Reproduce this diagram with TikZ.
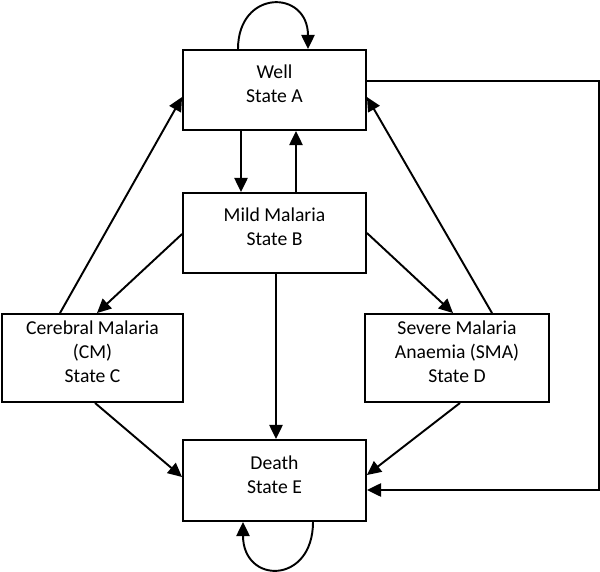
\documentclass[tikz,border=0pt]{standalone}
\usepackage{fontspec}
\setmainfont{Carlito}
\usetikzlibrary{positioning,arrows.meta}
\tikzset{
	%Diagramme des etats
	state/.style={
		draw,
		rectangle,
		line width=1.1pt,
		minimum width=3.66cm,
		minimum height=1.6cm,
		align=center,
		text depth=7pt,
		font=\fontsize{11.2}{13.6}\selectfont,
	},
	transition/.style={
		-{Triangle[length=8pt,width=7.5pt]},
		line width=1.1pt,
	},
}

\begin{document}
\begin{tikzpicture}[x=0.02cm, y=-0.02cm]
	\useasboundingbox (0,0) rectangle (600,572);

	\node (well) at (274.5,90) [state] {Well \\ State A};
	\node (mild) at (274.5,233) [state] {Mild Malaria \\ State B};
	\node (cerebral) at (92.5,358) [state, minimum width=3.62cm, minimum height=1.76cm] {Cerebral Malaria \\ (CM) \\ State C};
	\node (severe) at (457,358) [state, minimum width=3.68cm, minimum height=1.76cm] {Severe Malaria \\ Anaemia (SMA) \\ State D};
	\node (death) at (274.5,480.5) [state, minimum height=1.62cm] {Death \\ State E};

	\draw[transition] ([xshift=-0.73cm]well.north) to[out=90, in=90, looseness=2.2] ([xshift=0.67cm]well.north);
	\draw[transition] ([xshift=0.77cm]death.south) to[out=-90, in=-90, looseness=2.3] ([xshift=-0.63cm]death.south);

	\draw[transition] ([xshift=-0.67cm]well.south) -- ([xshift=-0.67cm]mild.north);
	\draw[transition] ([xshift=0.43cm]mild.north) -- ([xshift=0.43cm]well.south);
	\draw[transition] ([xshift=0.03cm]mild.south) -- ([xshift=0.03cm]death.north);

	\draw[transition] ([yshift=-0.02cm]mild.west) -- ([xshift=0.09cm]cerebral.north);
	\draw[transition] ([xshift=-0.65cm]cerebral.north) -- ([yshift=-0.14cm]well.west);
	\draw[transition] ([xshift=0.05cm]cerebral.south) -- ([yshift=0.07cm]death.west);

	\draw[transition] (mild.east) -- ([xshift=-0.08cm]severe.north);
	\draw[transition] ([xshift=0.7cm]severe.north) -- ([yshift=-0.14cm]well.east);
	\draw[transition] ([xshift=0.06cm]severe.south) -- ([yshift=0.11cm]death.east);

	\draw[transition] ([yshift=0.18cm]well.east) -- ++(232,0) |- ([yshift=-0.19cm]death.east);
\end{tikzpicture}
\end{document}
